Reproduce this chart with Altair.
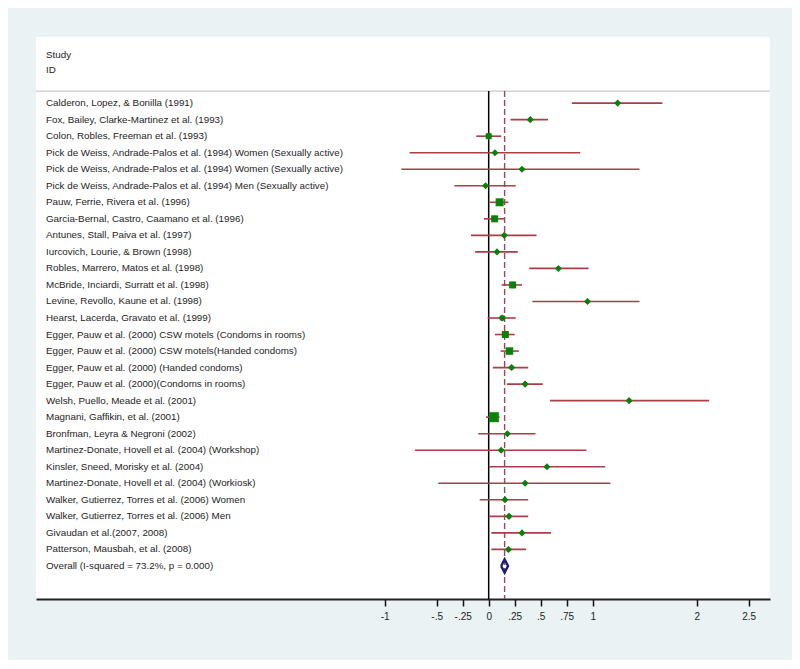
import altair as alt
import pandas as pd

studies = [
    "Calderon, Lopez, & Bonilla (1991)",
    "Fox, Bailey, Clarke-Martinez et al. (1993)",
    "Colon, Robles, Freeman et al. (1993)",
    "Pick de Weiss, Andrade-Palos et al. (1994) Women (Sexually active)",
    "Pick de Weiss, Andrade-Palos et al. (1994) Women (Sexually active)",
    "Pick de Weiss, Andrade-Palos et al. (1994) Men (Sexually active)",
    "Pauw, Ferrie, Rivera et al. (1996)",
    "Garcia-Bernal, Castro, Caamano et al. (1996)",
    "Antunes, Stall, Paiva et al. (1997)",
    "Iurcovich, Lourie, & Brown (1998)",
    "Robles, Marrero, Matos et al. (1998)",
    "McBride, Inciardi, Surratt et al. (1998)",
    "Levine, Revollo, Kaune et al. (1998)",
    "Hearst, Lacerda, Gravato et al. (1999)",
    "Egger, Pauw et al. (2000) CSW motels (Condoms in rooms)",
    "Egger, Pauw et al. (2000) CSW motels(Handed condoms)",
    "Egger, Pauw et al. (2000) (Handed condoms)",
    "Egger, Pauw et al. (2000)(Condoms in rooms)",
    "Welsh, Puello, Meade et al. (2001)",
    "Magnani, Gaffikin, et al. (2001)",
    "Bronfman, Leyra & Negroni (2002)",
    "Martinez-Donate, Hovell et al. (2004) (Workshop)",
    "Kinsler, Sneed, Morisky et al. (2004)",
    "Martinez-Donate, Hovell et al. (2004) (Workiosk)",
    "Walker, Gutierrez, Torres et al. (2006) Women",
    "Walker, Gutierrez, Torres et al. (2006) Men",
    "Givaudan et al.(2007, 2008)",
    "Patterson, Mausbah, et al. (2008)",
]
est = [1.24, 0.40, 0.00, 0.06, 0.32, -0.03, 0.105, 0.057, 0.15, 0.08,
       0.67, 0.23, 0.95, 0.13, 0.16, 0.20, 0.22, 0.35, 1.35, 0.05,
       0.18, 0.12, 0.56, 0.35, 0.156, 0.195, 0.32, 0.19]
lo = [0.80, 0.21, -0.12, -0.76, -0.84, -0.33, 0.01, -0.045, -0.17, -0.13,
      0.39, 0.125, 0.42, -0.01, 0.06, 0.115, 0.04, 0.175, 0.59, -0.025,
      -0.10, -0.71, 0.005, -0.485, -0.086, 0.005, 0.025, 0.025]
hi = [1.67, 0.57, 0.12, 0.88, 1.45, 0.26, 0.19, 0.15, 0.46, 0.28,
      0.96, 0.32, 1.45, 0.26, 0.25, 0.29, 0.38, 0.52, 2.12, 0.105,
      0.45, 0.94, 1.12, 1.17, 0.38, 0.38, 0.60, 0.36]
# relative study weight (drawn as box area)
weight = [4, 6, 36, 2, 2, 5, 64, 49, 6, 9,
          6, 49, 4, 25, 49, 56, 14, 16, 3, 100,
          9, 2, 3, 2, 12, 14, 8, 14]

overall_label = "Overall  (I-squared = 73.2%, p = 0.000)"
overall_est, overall_lo, overall_hi = 0.153, 0.12, 0.186

tick_values = [-1, -0.5, -0.25, 0, 0.25, 0.5, 0.75, 1, 2, 2.5]
tick_labels = ["-1", "-.5", "-.25", "0", ".25", ".5", ".75", "1", "2", "2.5"]

n = len(studies)
df = pd.DataFrame({"study": studies, "est": est, "lo": lo, "hi": hi,
                   "w": weight, "row": list(range(n))})
labels_df = pd.DataFrame({"label": studies + [overall_label],
                          "row": list(range(n + 1))})
overall_row = n
dia = pd.DataFrame({
    "x": [overall_lo, overall_est, overall_hi, overall_est, overall_lo],
    "row": [overall_row, overall_row - 0.4, overall_row, overall_row + 0.4, overall_row],
    "ord": [0, 1, 2, 3, 4],
})
header_row = -0.73
ref_df = pd.DataFrame({"x": [0.0], "row": [header_row], "row2": [30]})
dash_df = pd.DataFrame({"x": [overall_est], "row": [header_row], "row2": [30]})
sep_df = pd.DataFrame({"row": [header_row]})
head_df = pd.DataFrame({"label": ["Study", "ID"], "row": [-2.9, -2.0]})

label_expr = " : ".join(
    f"datum.value == {v} ? '{t}'" for v, t in zip(tick_values, tick_labels)
) + " : ''"

xscale = alt.Scale(domain=[-4.353, 2.705], nice=False, zero=False)
yscale = alt.Scale(domain=[-4, 30], reverse=True, nice=False, zero=False)

X = lambda f: alt.X(f, type="quantitative", scale=xscale,
                    axis=alt.Axis(values=tick_values, labelExpr=label_expr,
                                  title=None, grid=False))
Y = lambda f: alt.Y(f, type="quantitative", scale=yscale, axis=None)

font = "Liberation Sans"
txtcol = "#1e1e1e"

sep = alt.Chart(sep_df).mark_rule(color="#c6c9cc", strokeWidth=1.2).encode(y=Y("row"))
ref = alt.Chart(ref_df).mark_rule(color="black", strokeWidth=1.5).encode(
    x=X("x"), y=Y("row"), y2="row2")
dash = alt.Chart(dash_df).mark_rule(color="#9a4757", strokeWidth=1.4,
                                    strokeDash=[6, 3]).encode(
    x=X("x"), y=Y("row"), y2="row2")
ci = alt.Chart(df).mark_rule(color="#aa3d48", strokeWidth=1.6).encode(
    x=X("lo"), x2="hi", y=Y("row"))
boxes = alt.Chart(df).mark_square(color="#0b850b", opacity=1, filled=True).encode(
    x=X("est"), y=Y("row"), size=alt.Size("w:Q", scale=None, legend=None))
pts = alt.Chart(df).mark_point(shape="diamond", filled=True, color="#0a800a",
                               size=50, opacity=1).encode(x=X("est"), y=Y("row"))
diamond = alt.Chart(dia).mark_line(color="#1b1b78", strokeWidth=2.4).encode(
    x=X("x"), y=Y("row"), order="ord:Q")
labels = alt.Chart(labels_df).mark_text(align="left", baseline="middle",
                                        font=font, fontSize=9.8, color=txtcol).encode(
    x=alt.value(10), y=Y("row"), text="label:N")
head = alt.Chart(head_df).mark_text(align="left", baseline="middle",
                                    font=font, fontSize=9.8, color=txtcol).encode(
    x=alt.value(10), y=Y("row"), text="label:N")

chart = alt.layer(sep, ref, dash, ci, boxes, pts, diamond, labels, head).properties(
    width=734, height=562,
    autosize=alt.AutoSizeParams(type="none"),
    padding={"left": 28, "top": 29, "right": 22, "bottom": 61},
    background="#eaf2f3",
).configure_view(fill="white", stroke=None).configure_axisX(
    domainColor="#222222", domainWidth=2, tickColor="#111111", tickWidth=1.5,
    tickSize=7, labelFont=font, labelFontSize=10, labelColor=txtcol, labelPadding=5,
    labelFlush=False, labelOverlap=False,
)

chart.save("out.html", embed_options={"renderer": "svg", "actions": False})
